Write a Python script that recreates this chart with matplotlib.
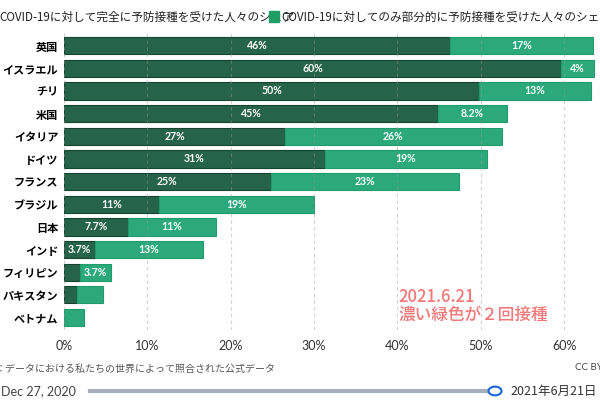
import matplotlib
matplotlib.use("Agg")
import matplotlib.pyplot as plt
from matplotlib.patches import Rectangle, Circle
from matplotlib.lines import Line2D

plt.rcParams["font.family"] = ["Noto Sans CJK JP", "DejaVu Sans"]

# データ（2021年6月21日時点、人口比 %）
countries = ["英国", "イスラエル", "チリ", "米国", "イタリア", "ドイツ", "フランス",
             "ブラジル", "日本", "インド", "フィリピン", "パキスタン", "ベトナム"]
full = [46.3, 59.6, 49.8, 44.9, 26.5, 31.3, 24.8, 11.4, 7.7, 3.7, 1.9, 1.6, 0.05]
partial = [17.2, 4.0, 13.4, 8.2, 26.0, 19.4, 22.6, 18.6, 10.5, 13.0, 3.7, 3.1, 2.3]
full_labels = ["46%", "60%", "50%", "45%", "27%", "31%", "25%", "11%", "7.7%", "3.7%", "", "", ""]
partial_labels = ["17%", "4%", "13%", "8.2%", "26%", "19%", "23%", "19%", "11%", "13%", "3.7%", "", ""]
xticks = [0, 10, 20, 30, 40, 50, 60]

dark = "#26634b"
dark_edge = "#14462f"
light = "#2ca87d"
light_edge = "#1f9c6c"

fig = plt.figure(figsize=(6, 4), dpi=100)
ax = fig.add_axes([64 / 600, 1 - 330 / 400, 536 / 600, 298 / 400])

y = list(range(len(countries)))
ax.barh(y, full, height=0.76, color=dark, edgecolor=dark_edge, linewidth=0.8)
ax.barh(y, partial, left=full, height=0.76, color=light, edgecolor=light_edge, linewidth=0.8)

for i in y:
    if full_labels[i]:
        ax.text(full[i] / 2, i, full_labels[i], ha="center", va="center",
                color="white", fontsize=7.6, fontweight="bold", family="Lato")
    if partial_labels[i]:
        ax.text(full[i] + partial[i] / 2, i, partial_labels[i], ha="center", va="center",
                color="white", fontsize=7.6, fontweight="bold", family="Lato")

ax.set_xlim(0, 64.3)
ax.set_ylim(len(countries) - 0.45, -0.6)
ax.set_yticks(y)
ax.set_yticklabels(countries, fontsize=8, fontweight="bold")
ax.set_xticks(xticks)
ax.set_xticklabels([f"{t}%" for t in xticks], fontsize=9, family="Lato", color="#333333")
ax.tick_params(length=0, pad=4)
ax.tick_params(axis="x", pad=7)
for s in ax.spines.values():
    s.set_visible(False)
ax.set_axisbelow(False)
ax.grid(axis="x", linestyle=(0, (3, 3)), color="#999999", alpha=0.45, linewidth=0.8)

# 凡例（はみ出し）
fig.text(-1 / 600, 1 - 17 / 400, "COVID-19に対して完全に予防接種を受けた人々のシェア",
         fontsize=8.4, va="center", ha="left", color="#222222")
fig.add_artist(Rectangle((269 / 600, 1 - 22 / 400), 10 / 600, 11 / 400,
                         transform=fig.transFigure, color="#1e9e62", zorder=5))
fig.text(281 / 600, 1 - 17 / 400, "COVID-19に対してのみ部分的に予防接種を受けた人々のシェア",
         fontsize=8.4, va="center", ha="left", color="#222222")

# 注記
fig.text(398 / 600, 1 - 306 / 400, "2021.6.21\n濃い緑色が２回接種", fontsize=12,
         color="#f57878", va="center", ha="left", linespacing=1.0, fontweight="medium")

# 出典
fig.text(-4 / 600, 1 - 369 / 400, "：データにおける私たちの世界によって照合された公式データ",
         fontsize=7.2, color="#555555", va="center", ha="left")
fig.text(575 / 600, 1 - 368 / 400, "CC BY", fontsize=7, color="#444444",
         va="center", ha="left", family="Lato")

# タイムライン
fig.text(1 / 600, 1 - 391 / 400, "Dec 27, 2020", fontsize=9, color="#444444",
         va="center", ha="left", family="Lato")
fig.add_artist(Line2D([90 / 600, 490 / 600], [1 - 391 / 400, 1 - 391 / 400],
                      transform=fig.transFigure, color="#a7afbd", linewidth=3))
fig.add_artist(Circle((495 / 600, 1 - 391 / 400), 6.5 / 600, transform=fig.transFigure,
                      facecolor="white", edgecolor="#1a66d9", linewidth=1.5, zorder=6))
fig.text(510 / 600, 1 - 391 / 400, "2021年6月21日", fontsize=9, color="#333333",
         va="center", ha="left")

fig.savefig("out.png", dpi=100)
